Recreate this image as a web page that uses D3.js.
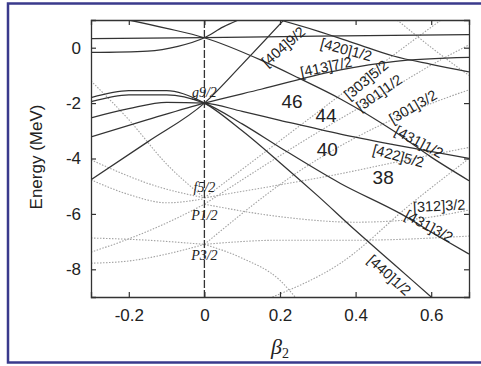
<!DOCTYPE html>
<html><head><meta charset="utf-8">
<script src="https://cdn.jsdelivr.net/npm/d3@7"></script>
<style>
html,body{margin:0;padding:0;background:#fff;}
svg{display:block;}
</style></head><body>
<svg id="chart" width="481" height="366"></svg>
<script>
// axis ticks
const betaTicks = [-0.2, 0, 0.2, 0.4, 0.6];
const energyTicks = [0, -2, -4, -6, -8];

// positive-parity single-particle levels, [beta2, energy MeV]
const lvA = [[-0.3,-1.8],[-0.2,-1.55],[-0.1,-1.55],[0,-2.0],[0.1,-3.0],[0.2,-4.15],[0.3,-5.35],[0.4,-6.6],[0.5,-7.8],[0.6,-9.0]];
const lvB = [[-0.3,-1.95],[-0.2,-1.7],[-0.1,-1.7],[0,-2.0],[0.1,-2.75],[0.2,-3.6],[0.36,-4.9],[0.52,-6.0],[0.63,-6.9],[0.7,-7.45]];
const lvC = [[-0.3,-2.53],[-0.2,-2.2],[-0.1,-1.97],[0,-2.0],[0.1,-2.3],[0.2,-2.62],[0.36,-3.12],[0.5,-3.5],[0.7,-4.0]];
const lvD = [[-0.3,-3.22],[-0.15,-2.6],[0,-2.0],[0.15,-1.5],[0.36,-0.8],[0.5,-0.5],[0.7,-0.35]];
const lvE = [[-0.3,-4.77],[-0.15,-3.4],[0,-2.0],[0.1,-0.6],[0.21,1.0]];
const lvF = [[-0.3,0.33],[0,0.36],[0.3,0.42],[0.7,0.47]];
const lvG = [[-0.3,-0.17],[-0.15,-0.12],[-0.07,0.05],[0,0.36],[0.05,0.75],[0.09,1.0]];
const lvH = [[-0.2,1.0],[-0.1,0.7],[0,0.36],[0.15,-0.45],[0.25,-1.1],[0.36,-1.85],[0.5,-3.0],[0.6,-3.95],[0.7,-4.8]];
const lvI = [[0.2,1.0],[0.3,0.6],[0.4,0.15],[0.5,-0.3],[0.6,-0.6],[0.7,-0.87]];

// negative-parity single-particle levels
const lvN1 = [[-0.3,-1.2],[-0.2,-2.6],[-0.1,-4.2],[0,-5.42]];
const lvN2 = [[-0.3,-4.05],[-0.12,-5.03],[0,-5.42]];
const lvN3 = [[-0.3,-4.77],[-0.2,-5.3],[-0.1,-5.6],[0,-5.45]];
const lvN4 = [[-0.3,-7.38],[-0.2,-6.9],[-0.08,-6.2],[0,-5.65]];
const lvN5 = [[-0.3,-6.87],[-0.15,-6.95],[0,-7.1]];
const lvN6 = [[-0.3,-7.78],[-0.2,-7.7],[-0.1,-7.45],[0,-7.1]];
const lvP1 = [[0,-5.42],[0.256,-2.78],[0.441,-0.87],[0.573,0.47],[0.626,1.0]];
const lvP2 = [[0,-5.65],[0.31,-2.97],[0.468,-1.7],[0.626,-0.43],[0.7,0.1]];
const lvP3 = [[0,-7.1],[0.256,-4.41],[0.468,-2.78],[0.626,-1.88],[0.7,-1.52]];
const lvP4 = [[0,-5.42],[0.2,-4.95],[0.36,-4.55],[0.5,-4.15],[0.7,-3.6]];
const lvP5 = [[0,-5.65],[0.2,-6.1],[0.4,-6.3],[0.55,-6.2],[0.7,-5.86]];
const lvP6 = [[0,-7.1],[0.1,-7.6],[0.2,-8.4],[0.24,-9.0]];
const lvP7 = [[0.18,-9.0],[0.36,-7.78],[0.55,-5.6],[0.7,-4.0]];
const lvP8 = [[0.51,1.0],[0.62,-0.2],[0.7,-1.0]];
const lvP9 = [[0,-7.1],[0.2,-6.95],[0.4,-6.95],[0.7,-6.8]];

const solidLevels = [lvA, lvB, lvC, lvD, lvE, lvF, lvG, lvH, lvI];
const dottedLevels = [lvN1, lvN2, lvN3, lvN4, lvN5, lvN6, lvP1, lvP2, lvP3, lvP4, lvP5, lvP6, lvP7, lvP8, lvP9];

// asymptotic Nilsson labels
const nilssonLabels = [
  {text:"[404]9/2", beta:0.209, e:0.04,  angle:-41},
  {text:"[420]1/2", beta:0.375, e:-0.07, angle:15},
  {text:"[413]7/2", beta:0.322, e:-0.69, angle:-12},
  {text:"[303]5/2", beta:0.428, e:-1.16, angle:-40},
  {text:"[301]1/2", beta:0.462, e:-1.63, angle:-35},
  {text:"[301]3/2", beta:0.552, e:-2.13, angle:-30},
  {text:"[431]1/2", beta:0.568, e:-3.40, angle:28},
  {text:"[422]5/2", beta:0.513, e:-3.91, angle:15},
  {text:"[312]3/2", beta:0.621, e:-5.71, angle:-3},
  {text:"[431]3/2", beta:0.594, e:-6.44, angle:28},
  {text:"[440]1/2", beta:0.489, e:-8.21, angle:42}
];
// shell gaps
const gapLabels = [
  {text:"46", beta:0.232, e:-1.95},
  {text:"44", beta:0.322, e:-2.46},
  {text:"40", beta:0.325, e:-3.69},
  {text:"38", beta:0.473, e:-4.70}
];
// spherical orbitals
const orbitLabels = [
  {text:"g9/2", e:-1.63},
  {text:"f5/2", e:-5.06},
  {text:"P1/2", e:-6.04},
  {text:"P3/2", e:-7.49}
];

const svg = d3.select("#chart");
const W = 481, H = 366;
const L = 91, R = 469, T = 20, B = 297;

// frame
svg.append("rect").attr("x",0).attr("y",0).attr("width",W).attr("height",H).attr("fill","#fff");
svg.append("rect").attr("x",8).attr("y",3.5).attr("width",W).attr("height",359)
  .attr("fill","none").attr("stroke","#3a3a8c").attr("stroke-width",2.5);

const x = d3.scaleLinear().domain([-0.3,0.7]).range([L,R]);
const y = d3.scaleLinear().domain([-9,1]).range([B,T]);

const plot = svg.append("g");
svg.append("clipPath").attr("id","clip").append("rect")
  .attr("x",L).attr("y",T).attr("width",R-L).attr("height",B-T);
const lines = plot.append("g").attr("clip-path","url(#clip)");

const line = d3.line().x(d=>x(d[0])).y(d=>y(d[1])).curve(d3.curveMonotoneX);

lines.selectAll("path.dot").data(dottedLevels).join("path")
  .attr("class","dot").attr("d",line).attr("fill","none")
  .attr("stroke","#a2a2a2").attr("stroke-width",1.1).attr("stroke-dasharray","1.5,1.5");

lines.selectAll("path.sol").data(solidLevels).join("path")
  .attr("class","sol").attr("d",line).attr("fill","none")
  .attr("stroke","#333").attr("stroke-width",1.25);

// spherical limit
lines.append("line").attr("x1",x(0)).attr("x2",x(0)).attr("y1",T).attr("y2",B)
  .attr("stroke","#333").attr("stroke-width",1.3).attr("stroke-dasharray","8,2");

// axes
const tickFont = "Liberation Sans, Arial, sans-serif";
const xb = svg.append("g").attr("transform",`translate(0,${B})`)
  .call(d3.axisBottom(x).tickValues(betaTicks).tickSize(-5).tickPadding(12).tickFormat(d=>d===0?"0":d3.format(".1f")(d).replace("\u2212","-")));
const xt = svg.append("g").attr("transform",`translate(0,${T})`)
  .call(d3.axisTop(x).tickValues(betaTicks).tickSize(-5).tickFormat(""));
const yl = svg.append("g").attr("transform",`translate(${L},0)`)
  .call(d3.axisLeft(y).tickValues(energyTicks).tickSize(-5).tickPadding(10).tickFormat(d=>String(d)));
const yr = svg.append("g").attr("transform",`translate(${R},0)`)
  .call(d3.axisRight(y).tickValues(energyTicks).tickSize(-5).tickFormat(""));
[xb,xt,yl,yr].forEach(g=>{
  g.select(".domain").attr("stroke","#333").attr("stroke-width",1.3);
  g.selectAll(".tick line").attr("stroke","#333").attr("stroke-width",1.2);
  g.selectAll("text").attr("font-family",tickFont).attr("font-size",17).attr("fill","#222");
});

// axis titles
svg.append("text").attr("transform","translate(36,157) rotate(-90)")
  .attr("text-anchor","middle").attr("dominant-baseline","central")
  .attr("font-family",tickFont).attr("font-size",17).attr("fill","#222").text("Energy (MeV)");
const bt = svg.append("text").attr("x",280).attr("y",354).attr("text-anchor","middle")
  .attr("font-family","Liberation Serif, Times New Roman, serif").attr("font-style","italic")
  .attr("font-size",22).attr("fill","#222");
bt.append("tspan").text("\u03B2");
bt.append("tspan").attr("font-size",14).attr("dy",4).attr("font-style","normal").text("2");

// annotations
const ann = svg.append("g").attr("font-family",tickFont).attr("fill","#222");
ann.selectAll("text.nl").data(nilssonLabels).join("text").attr("class","nl")
  .attr("transform",d=>`translate(${x(d.beta)},${y(d.e)}) rotate(${d.angle})`)
  .attr("text-anchor","middle").attr("dominant-baseline","central")
  .attr("font-size",14.5).text(d=>d.text);
ann.selectAll("text.gl").data(gapLabels).join("text").attr("class","gl")
  .attr("x",d=>x(d.beta)).attr("y",d=>y(d.e))
  .attr("text-anchor","middle").attr("dominant-baseline","central")
  .attr("font-size",19).text(d=>d.text);
ann.selectAll("text.ol").data(orbitLabels).join("text").attr("class","ol")
  .attr("x",x(0)).attr("y",d=>y(d.e))
  .attr("text-anchor","middle").attr("dominant-baseline","central")
  .attr("font-family","Liberation Serif, Times New Roman, serif").attr("font-style","italic")
  .attr("font-size",14).text(d=>d.text);
</script>
</body></html>
